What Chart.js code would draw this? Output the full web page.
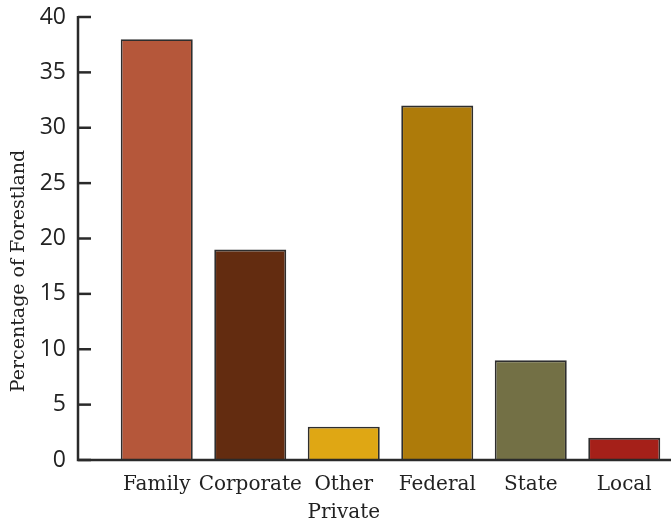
<!DOCTYPE html>
<html>
<head>
<meta charset="utf-8">
<script src="https://cdn.jsdelivr.net/npm/chart.js@4.4.1/dist/chart.umd.min.js"></script>
<style>
  html, body { margin: 0; padding: 0; background: #fff; }
  #wrap { width: 671px; height: 522px; }
</style>
</head>
<body>
<div id="wrap"><canvas id="forestChart"></canvas></div>
<script>
// Forestland ownership data
const categories = ['Family', 'Corporate', ['Other', 'Private'], 'Federal', 'State', 'Local'];
const shares = [38, 19, 3, 32, 9, 2];
const barColors = ['#B5573A', '#632C10', '#DFA714', '#AE7B0A', '#737045', '#A52019'];
const yTicks = [0, 5, 10, 15, 20, 25, 30, 35, 40];
const yTitle = 'Percentage of Forestland';

const AXIS_X = 78;     // where the y axis line sits
const AXIS_COLOR = '#2a2a2a';

// draws the axis lines with inward ticks and the rotated y title
const axesPlugin = {
    id: 'axesPlugin',
    afterDraw(chart) {
        const ctx = chart.ctx;
        const y = chart.scales.y;
        const base = y.getPixelForValue(0);
        ctx.save();
        ctx.strokeStyle = AXIS_COLOR;
        ctx.lineWidth = 2.5;
        ctx.beginPath();
        ctx.moveTo(AXIS_X, y.getPixelForValue(40) - 1);
        ctx.lineTo(AXIS_X, base);
        ctx.lineTo(chart.width, base);
        ctx.stroke();
        yTicks.forEach(v => {
            const py = y.getPixelForValue(v);
            ctx.beginPath();
            ctx.moveTo(AXIS_X, py);
            ctx.lineTo(AXIS_X + 13, py);
            ctx.stroke();
        });
        ctx.fillStyle = '#222';
        ctx.font = '19px "DejaVu Serif"';
        ctx.textAlign = 'center';
        ctx.textBaseline = 'middle';
        ctx.translate(19, 271);
        ctx.rotate(-Math.PI / 2);
        ctx.fillText(yTitle, 0, 0);
        ctx.restore();
    }
};

const ctx = document.getElementById('forestChart').getContext('2d');
new Chart(ctx, {
    type: 'bar',
    data: {
        labels: categories,
        datasets: [{
            data: shares,
            backgroundColor: barColors,
            borderColor: '#2e2e2e',
            borderWidth: 1.8,
            barPercentage: 0.77,
            categoryPercentage: 1
        }]
    },
    options: {
        responsive: true,
        maintainAspectRatio: false,
        animation: false,
        layout: { padding: { top: 17, right: 0, bottom: 0, left: 0 } },
        plugins: {
            legend: { display: false },
            tooltip: { enabled: false }
        },
        scales: {
            x: {
                grid: { display: false },
                border: { display: false },
                afterFit(scale) { scale.height = 62; scale.paddingLeft = 0; scale.paddingRight = 0; },
                ticks: {
                    color: '#222',
                    padding: 3,
                    maxRotation: 0,
                    autoSkip: false,
                    font: { family: 'DejaVu Serif', size: 20, lineHeight: 1.4 }
                }
            },
            y: {
                min: 0,
                max: 40,
                grid: { display: false },
                border: { display: false },
                afterFit(scale) { scale.width = 110; scale.paddingTop = 0; scale.paddingBottom = 0; },
                afterBuildTicks(scale) { scale.ticks = yTicks.map(v => ({ value: v })); },
                ticks: {
                    color: '#222',
                    padding: 36,
                    font: { family: 'Open Sans', size: 23 }
                }
            }
        }
    },
    plugins: [axesPlugin]
});
</script>
</body>
</html>
